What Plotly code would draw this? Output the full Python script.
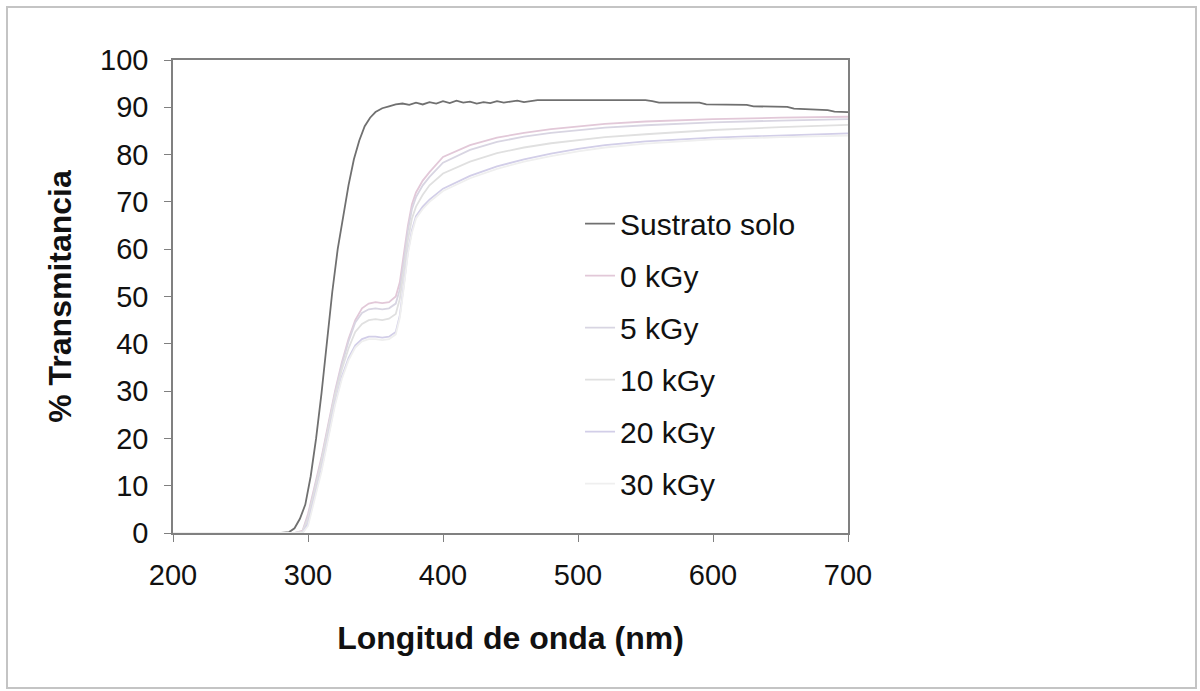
import plotly.graph_objects as go

# ---- data ----
wl_sub = [200, 280, 286, 290, 294, 298, 302, 306, 310, 314, 318, 322, 326, 330, 334, 338,
          342, 346, 350, 355, 360, 365, 370, 375, 380, 385, 390, 395, 400, 405, 410, 415,
          420, 425, 430, 435, 440, 445, 450, 455, 460, 470, 480, 500, 520, 550, 555, 560,
          590, 595, 625, 630, 655, 660, 685, 690, 700]
t_sub = [0, 0, 0.2, 1, 3, 6, 12, 20, 29.5, 40, 51, 60, 67, 73.5, 79, 83,
         86, 87.8, 89, 89.8, 90.2, 90.6, 90.8, 90.5, 91.0, 90.6, 91.1, 90.8, 91.3, 90.9, 91.4, 91.0,
         91.2, 90.8, 91.1, 90.9, 91.3, 91.0, 91.2, 91.4, 91.1, 91.5, 91.5, 91.5, 91.5, 91.5, 91.3, 91.0,
         91.0, 90.6, 90.5, 90.2, 90.1, 89.7, 89.4, 89.1, 89.0]

wl_film = [200, 290, 296, 300, 305, 310, 315, 320, 325, 330, 335, 340, 345, 350, 355, 360,
           365, 368, 371, 374, 377, 380, 385, 390, 400, 420, 440, 460, 480, 500, 520, 550,
           600, 650, 700]
t_0 = [0, 0, 0.5, 4, 10, 16, 23, 30, 36, 41, 45, 47.5, 48.5, 48.8, 48.6, 48.8,
       50, 53, 59, 65, 69.5, 72, 74.5, 76.3, 79.5, 82, 83.6, 84.6, 85.4, 86, 86.5, 87,
       87.5, 87.8, 88]
t_5 = [0, 0, 0.3, 3.5, 9.5, 15.5, 22.5, 29.5, 35.5, 40.5, 44.5, 46.5, 47.3, 47.5, 47.3, 47.5,
       48.5, 51.5, 57.5, 64, 68.5, 71, 73.5, 75.3, 78.3, 81, 82.7, 83.8, 84.6, 85.2, 85.7, 86.2,
       86.8, 87.2, 87.5]
t_10 = [0, 0, 0.3, 3, 9, 15, 22, 29, 34.5, 39, 42.5, 44.2, 45, 45.2, 45, 45.3,
        46.3, 49.5, 55.5, 62, 66.5, 69, 71.5, 73.5, 76, 78.5, 80.3, 81.5, 82.4, 83.1, 83.7, 84.3,
        85.2, 85.8, 86.3]
t_20 = [0, 0, 0, 2, 7.5, 13.5, 20.5, 27.5, 33, 37, 39.7, 41, 41.5, 41.5, 41.3, 41.5,
        42.5, 46, 52.5, 59.5, 64, 67, 69, 70.5, 72.8, 75.5, 77.5, 79, 80.2, 81.2, 82, 82.8,
        83.6, 84.1, 84.5]
t_30 = [0, 0, 0, 1.5, 7, 13, 20, 27, 32.5, 36.5, 39.2, 40.5, 41, 41, 40.8, 41,
        42, 45.5, 52, 59, 63.5, 66.5, 68.5, 70, 72.3, 75, 77, 78.5, 79.7, 80.7, 81.5, 82.3,
        83.2, 83.7, 84]

names = ["Sustrato solo", "0 kGy", "5 kGy", "10 kGy", "20 kGy", "30 kGy"]
colors = ["#707070", "#e2c8d8", "#d8d5e2", "#e0e0e0", "#d2cee8", "#efefef"]

series = [(wl_sub, t_sub), (wl_film, t_0), (wl_film, t_5), (wl_film, t_10),
          (wl_film, t_20), (wl_film, t_30)]

fig = go.Figure()
for i, ((x, y), n, c) in enumerate(zip(series, names, colors)):
    fig.add_trace(go.Scatter(x=x, y=y, mode="lines", name=n, legendgroup=str(i),
                             line=dict(color=c, width=1.8)))

font_family = "Liberation Sans, Arial, sans-serif"
fig.update_layout(
    width=1200, height=691,
    margin=dict(l=173, r=352, t=60, b=158),
    paper_bgcolor="white", plot_bgcolor="white",
    font=dict(family=font_family, size=29, color="#111111"),
    showlegend=True,
    legend=dict(x=0.603, y=0.709, xanchor="left", yanchor="top",
                bgcolor="rgba(0,0,0,0)", tracegroupgap=10,
                font=dict(size=30, color="#111111")),
    xaxis=dict(range=[200, 700], tickvals=[200, 300, 400, 500, 600, 700],
               showgrid=False, zeroline=False, showline=True, linecolor="#808080",
               linewidth=1.5, mirror=True, ticks="outside", ticklen=7, tickcolor="#808080",
               ticklabelstandoff=8,
               title=dict(text="<b>Longitud de onda (nm)</b>", font=dict(size=32), standoff=37)),
    yaxis=dict(range=[0, 100], tickvals=list(range(0, 101, 10)),
               showgrid=False, zeroline=False, showline=True, linecolor="#808080",
               linewidth=1.5, mirror=True, ticks="outside", ticklen=7, tickcolor="#808080",
               ticklabelstandoff=10,
               title=dict(text="<b>% Transmitancia</b>", font=dict(size=32), standoff=19)),
    shapes=[dict(type="rect", xref="paper", yref="paper",
                 x0=(7 - 173) / 675, x1=(1196 - 173) / 675,
                 y0=(533 - 688) / 473, y1=(533 - 7) / 473,
                 line=dict(color="#c4c4c4", width=2), fillcolor="rgba(0,0,0,0)", layer="below")],
)

fig.write_html("out.html")
